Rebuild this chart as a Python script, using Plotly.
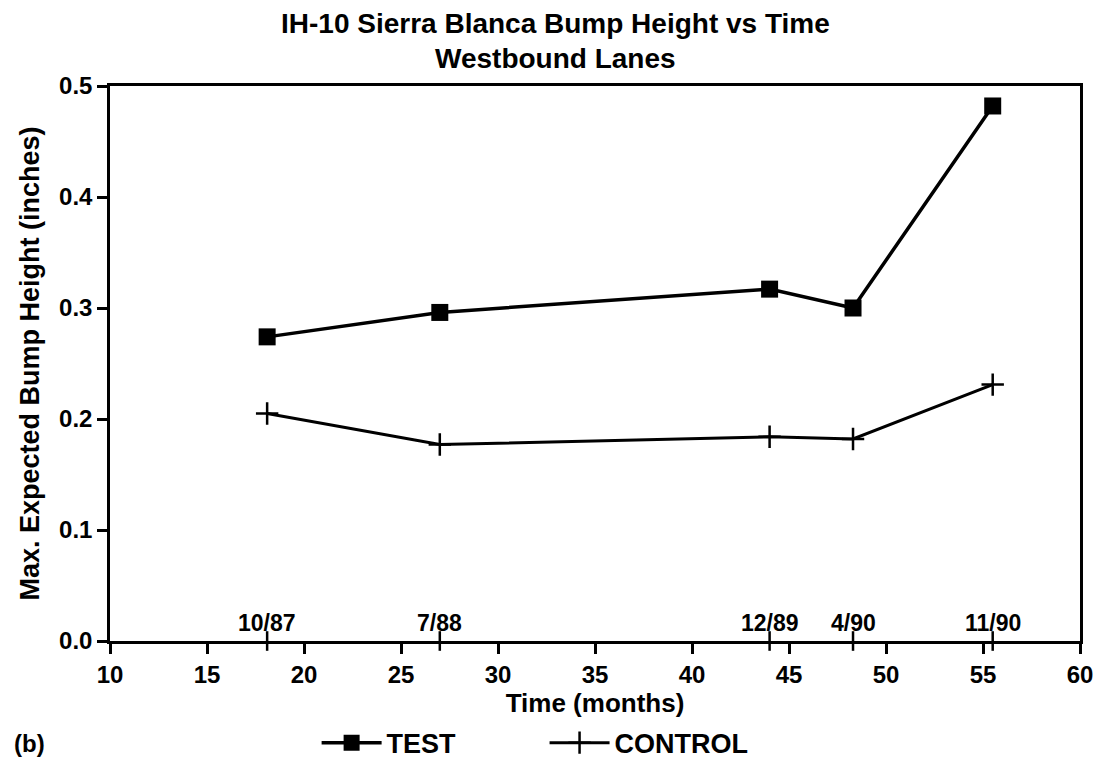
import plotly.graph_objects as go

months = [18.1, 27.0, 44.0, 48.3, 55.5]
date_labels = ["10/87", "7/88", "12/89", "4/90", "11/90"]
test_vals = [0.274, 0.296, 0.317, 0.300, 0.482]
control_vals = [0.205, 0.177, 0.184, 0.182, 0.231]
x_ticks = [10, 15, 20, 25, 30, 35, 40, 45, 50, 55, 60]
y_ticks = [0.0, 0.1, 0.2, 0.3, 0.4, 0.5]

FONT = "Liberation Sans, Arial, sans-serif"


def bold(s):
    return f"<b>{s}</b>"


fig = go.Figure()

fig.add_trace(go.Scatter(
    x=months, y=test_vals, mode="lines+markers", name=bold("TEST"),
    line=dict(color="black", width=3.5),
    marker=dict(symbol="square", size=17, color="black"),
    legend="legend",
))
fig.add_trace(go.Scatter(
    x=months, y=control_vals, mode="lines+markers", name=bold("CONTROL"),
    line=dict(color="black", width=3),
    marker=dict(symbol="cross-thin", size=16, line=dict(color="black", width=2.5)),
    legend="legend2",
))
# date tick marks crossing the x axis
fig.add_trace(go.Scatter(
    x=months, y=[0] * len(months), mode="markers",
    marker=dict(symbol="line-ns", size=14, line=dict(color="black", width=2.5)),
    showlegend=False, cliponaxis=False, hoverinfo="skip",
))

annotations = [
    dict(text=bold("IH-10 Sierra Blanca Bump Height vs Time"), xref="paper", yref="paper",
         x=0.459, y=1.112, xanchor="center", yanchor="middle", showarrow=False,
         font=dict(family=FONT, size=28, color="black")),
    dict(text=bold("Westbound Lanes"), xref="paper", yref="paper",
         x=0.459, y=1.050, xanchor="center", yanchor="middle", showarrow=False,
         font=dict(family=FONT, size=28, color="black")),
    dict(text=bold("(b)"), xref="paper", yref="paper",
         x=-0.101, y=-0.184, xanchor="left", yanchor="middle",
         showarrow=False, font=dict(family=FONT, size=24, color="black")),
]
for m, lab in zip(months, date_labels):
    annotations.append(dict(
        text=bold(lab), x=m, y=0, xref="x", yref="y",
        xanchor="center", yanchor="bottom", yshift=3, showarrow=False,
        font=dict(family=FONT, size=23, color="black"),
    ))

legend_common = dict(
    orientation="h", y=-0.184, yanchor="middle",
    font=dict(family=FONT, size=27, color="black"),
    itemwidth=60, bgcolor="rgba(0,0,0,0)", borderwidth=0,
)

fig.update_layout(
    width=1098, height=762,
    paper_bgcolor="white", plot_bgcolor="white",
    margin=dict(l=102, r=26, t=78, b=129, autoexpand=False),
    font=dict(family=FONT, color="black"),
    showlegend=True,
    legend=dict(x=0.213, xanchor="left", **legend_common),
    legend2=dict(x=0.448, xanchor="left", **legend_common),
    annotations=annotations,
)

fig.update_xaxes(
    range=[10, 60], tickvals=x_ticks, ticktext=[bold(v) for v in x_ticks],
    showgrid=False, zeroline=False,
    showline=True, linecolor="black", linewidth=2.5, mirror=True,
    ticks="outside", ticklen=10, tickwidth=2.5, tickcolor="black",
    tickfont=dict(family=FONT, size=24, color="black"),
    title=dict(text=bold("Time (months)"), font=dict(family=FONT, size=26, color="black"), standoff=0),
    automargin=False,
)
fig.update_yaxes(
    range=[0, 0.5], tickvals=y_ticks, ticktext=[bold(f"{v:.1f}") for v in y_ticks],
    showgrid=False, zeroline=False,
    showline=True, linecolor="black", linewidth=2.5, mirror=True,
    ticks="outside", ticklen=10, tickwidth=2.5, tickcolor="black",
    tickfont=dict(family=FONT, size=24, color="black"),
    title=dict(text=bold("Max. Expected Bump Height (inches)"), font=dict(family=FONT, size=27, color="black"), standoff=12),
    automargin=False,
)

fig.write_html("out.html")
